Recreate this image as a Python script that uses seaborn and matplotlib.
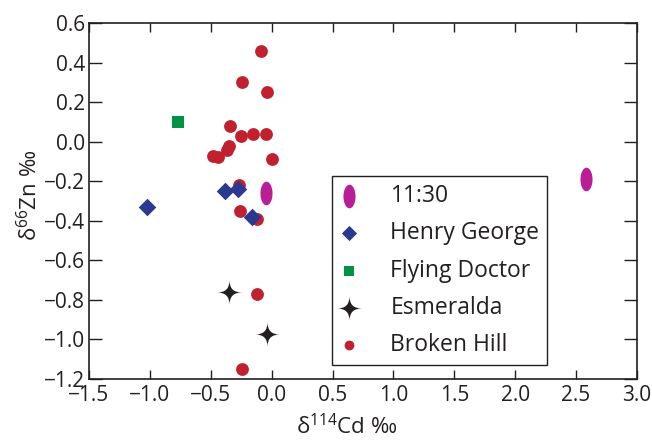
import numpy as np
import matplotlib
matplotlib.use("Agg")
import matplotlib.pyplot as plt
from matplotlib.path import Path
import seaborn as sns

# Sample groups: delta-114 Cd (x) and delta-66 Zn (y), per mille
groups = ["11:30", "Henry George", "Flying Doctor", "Esmeralda", "Broken Hill"]

cd_1130 = [-0.05, 2.58]
zn_1130 = [-0.26, -0.19]

cd_henry = [-1.02, -0.38, -0.28, -0.16]
zn_henry = [-0.33, -0.25, -0.24, -0.38]

cd_flying = [-0.77]
zn_flying = [0.10]

cd_esmeralda = [-0.35, -0.04]
zn_esmeralda = [-0.76, -0.97]

cd_broken = [-0.09, -0.24, -0.04, -0.34, -0.25, -0.15, -0.05, -0.35, -0.37,
             -0.48, -0.44, 0.00, -0.27, -0.26, -0.12, -0.12, -0.24]
zn_broken = [0.46, 0.30, 0.25, 0.08, 0.03, 0.04, 0.04, -0.02, -0.04,
             -0.07, -0.08, -0.09, -0.22, -0.35, -0.39, -0.77, -1.15]

x_ticks = [-1.5, -1.0, -0.5, 0.0, 0.5, 1.0, 1.5, 2.0, 2.5, 3.0]
y_ticks = [0.6, 0.4, 0.2, 0.0, -0.2, -0.4, -0.6, -0.8, -1.0, -1.2]

# Custom marker shapes: an upright ellipse and a four-pointed star with concave sides
theta = np.linspace(0, 2 * np.pi, 60)
ellipse = Path(np.column_stack([0.51 * np.cos(theta), np.sin(theta)]))

tips = [(1, 0), (0, 1), (-1, 0), (0, -1)]
verts, codes = [tips[0]], [Path.MOVETO]
for k in range(4):
    verts += [(0, 0), tips[(k + 1) % 4]]
    codes += [Path.CURVE3, Path.CURVE3]
star = Path(verts, codes)

sns.set_theme(style="white")
plt.rcParams["font.family"] = ["Open Sans", "DejaVu Sans"]
plt.rcParams["mathtext.fontset"] = "custom"
plt.rcParams["mathtext.rm"] = "Open Sans"
plt.rcParams["mathtext.it"] = "Open Sans"
plt.rcParams["axes.unicode_minus"] = True

ink = "#231F20"
fs = 15
fig = plt.figure(figsize=(6.52, 4.42), dpi=100)
L, R, T, B = 89, 637, 23, 379
ax = fig.add_axes([L / 652, 1 - B / 442, (R - L) / 652, (B - T) / 442])

styles = {
    "11:30": dict(x=cd_1130, y=zn_1130, marker=ellipse, color="#B91E96", s=290, ls=290),
    "Henry George": dict(x=cd_henry, y=zn_henry, marker="D", color="#2B3990", s=80, ls=60),
    "Flying Doctor": dict(x=cd_flying, y=zn_flying, marker="s", color="#009245", s=78, ls=50),
    "Esmeralda": dict(x=cd_esmeralda, y=zn_esmeralda, marker=star, color=ink, s=310, ls=310),
    "Broken Hill": dict(x=cd_broken, y=zn_broken, marker="o", color="#C1202F", s=85, ls=50),
}

for name in groups[::-1]:
    st = styles[name]
    sns.scatterplot(x=st["x"], y=st["y"], marker=st["marker"], color=st["color"],
                    s=st["s"], linewidth=0, ax=ax, label=name, zorder=3)

ax.set_xlim(-1.5, 3.0)
ax.set_ylim(-1.2, 0.6)
ax.set_xticks(x_ticks)
ax.set_yticks(y_ticks)
ax.set_xticklabels([f"{v:.1f}".replace("-", "\u2212") for v in x_ticks])
ax.set_yticklabels([f"{v:.1f}".replace("-", "\u2212") for v in y_ticks])

for sp in ax.spines.values():
    sp.set_color(ink)
    sp.set_linewidth(1.2)
ax.tick_params(axis="x", direction="in", length=6.5, width=1, color=ink,
               top=True, bottom=True, labelsize=fs, labelcolor=ink, pad=4)
ax.tick_params(axis="y", direction="in", length=9.5, width=1, color=ink,
               left=True, right=True, labelsize=fs, labelcolor=ink, pad=3)

ax.set_xlabel(r"δ$^{114}$Cd ‰", fontsize=16, color=ink, labelpad=6,
              x=(347 - L) / (R - L))
ax.set_ylabel(r"δ$^{66}$Zn ‰", fontsize=16, color=ink, labelpad=1,
              y=(B - 195) / (B - T))

handles, labels = ax.get_legend_handles_labels()
order = [labels.index(g) for g in groups]
leg = ax.legend([handles[i] for i in order], [labels[i] for i in order],
                loc="upper left",
                bbox_to_anchor=((332 - L) / (R - L), (B - 176) / (B - T)),
                fontsize=16.5, frameon=True, fancybox=False, edgecolor=ink,
                framealpha=1, borderpad=0.35, labelspacing=0.58, handletextpad=1.45,
                borderaxespad=0, handlelength=0.75)
leg.get_frame().set_linewidth(1.0)
for t in leg.get_texts():
    t.set_color(ink)
for h, i in zip(leg.legend_handles, order):
    h.set_sizes([styles[labels[i]]["ls"]])

fig.savefig("out.png", dpi=100)
